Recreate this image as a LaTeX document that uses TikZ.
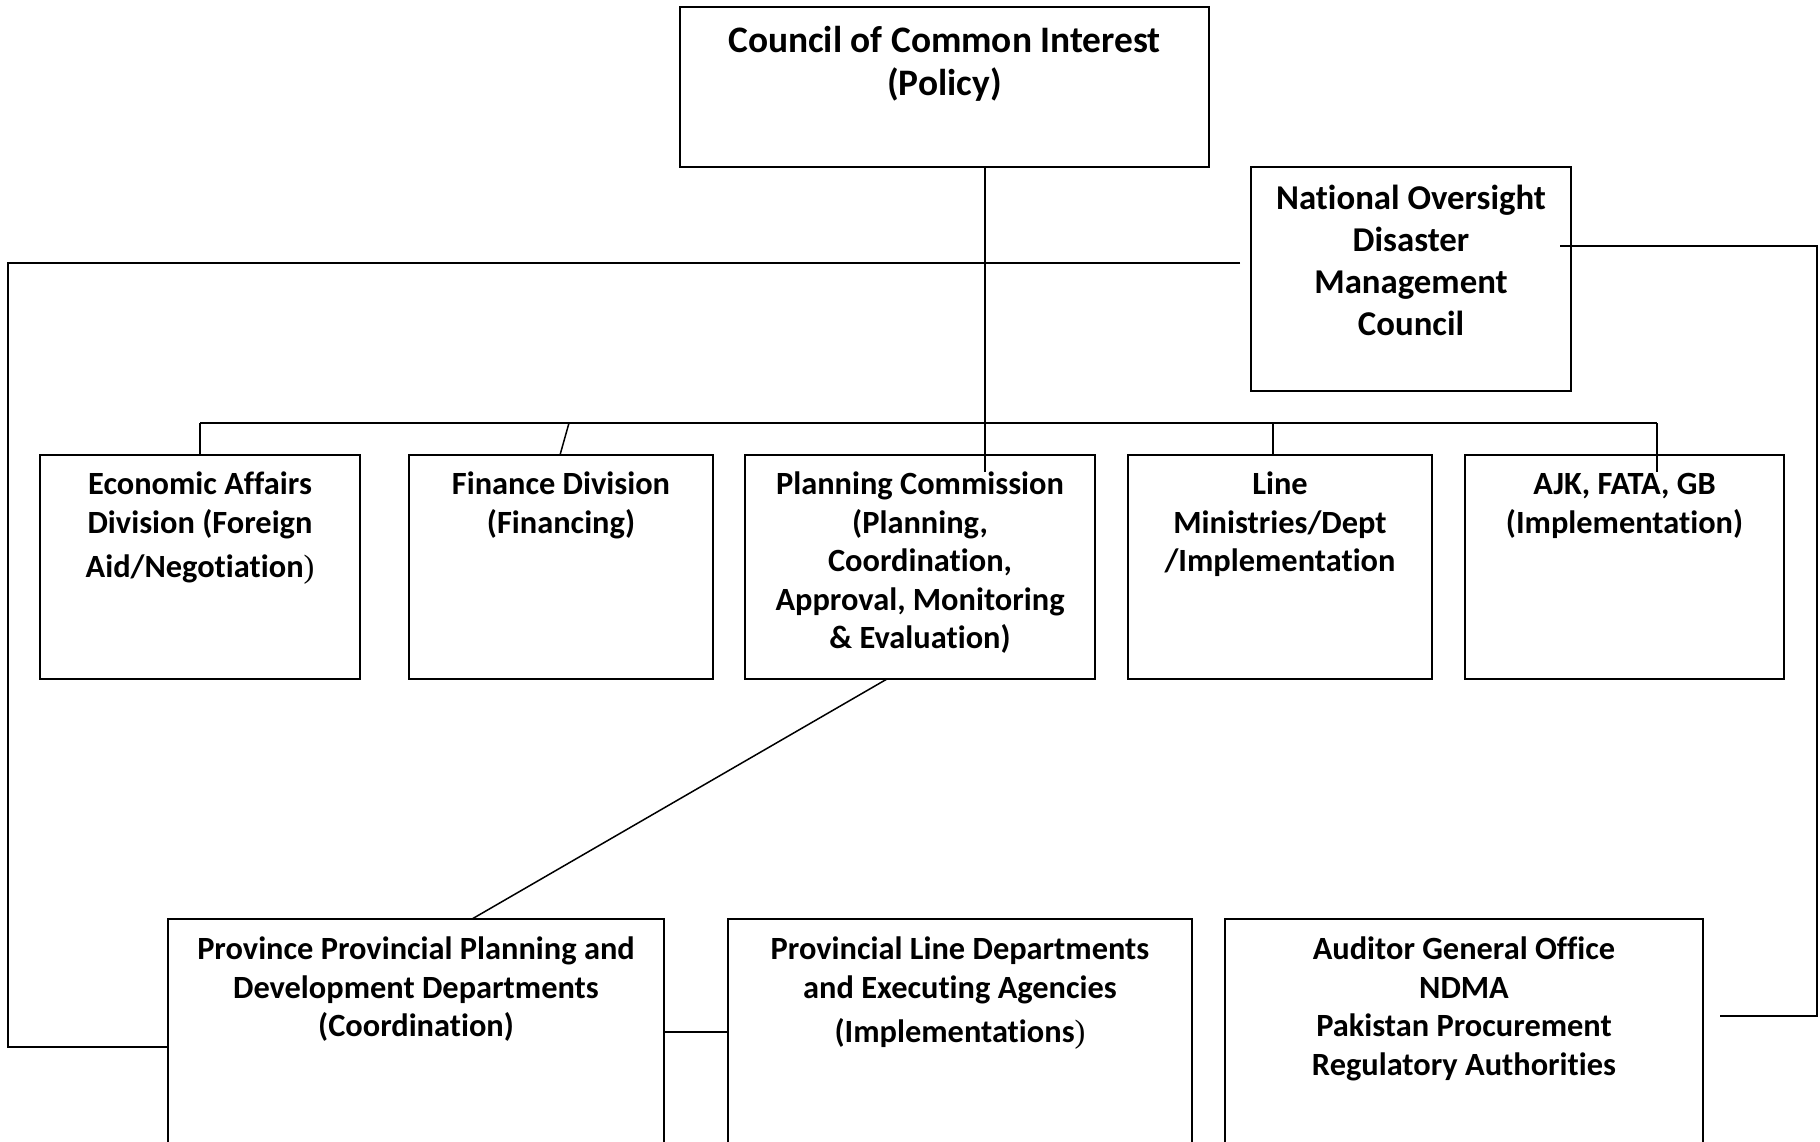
\documentclass[tikz,border=0pt]{standalone}
\usepackage{fontspec}
\setmainfont{Carlito}[Ligatures=CommonOff]
\newfontfamily\parenfont{Liberation Serif}
\usetikzlibrary{calc}
\tikzset{
  box/.style={draw=black, line width=1.6pt, inner sep=0pt, outer sep=0pt, anchor=north west},
  lbl/.style={anchor=north, inner sep=0pt, outer sep=0pt, align=center, font=\bfseries\fontsize{32.4}{38.5}\selectfont},
  biglbl/.style={lbl, font=\bfseries\fontsize{37.4}{43}\selectfont},
  nodlbl/.style={lbl, font=\bfseries\fontsize{34.8}{41.7}\selectfont},
  conn/.style={draw=black, line width=1.5pt},
}
\begin{document}
\begin{tikzpicture}[x=1pt,y=-1pt]
\useasboundingbox (0,0) rectangle (1820,1141);
\clip (0,0) rectangle (1820,1141);
\fill[white] (0,0) rectangle (1820,1141);

% boxes
\node[box, minimum width=529pt, minimum height=160pt] (cci) at (680,7) {};
\node[box, minimum width=320pt, minimum height=224pt] (nod) at (1251,167) {};
\node[box, minimum width=320pt, minimum height=224pt] (ead) at (40,455) {};
\node[box, minimum width=304pt, minimum height=224pt] (fd) at (409,455) {};
\node[box, minimum width=350pt, minimum height=224pt] (pc) at (745,455) {};
\node[box, minimum width=304pt, minimum height=224pt] (lm) at (1128,455) {};
\node[box, minimum width=319pt, minimum height=224pt] (ajk) at (1465,455) {};
\node[box, minimum width=496pt, minimum height=300pt] (prov) at (168,919) {};
\node[box, minimum width=464pt, minimum height=300pt] (pl) at (728,919) {};
\node[box, minimum width=478pt, minimum height=300pt] (aud) at (1225,919) {};

% labels
\node[biglbl] (cciT) at (944.5,21.9) {\strut Council of Common Interest\\(Policy)};
\node[nodlbl] (nodT) at (1411,180.8) {\strut National Oversight\\Disaster\\Management\\Council};
\node[lbl] (eadT) at (200,468) {\strut Economic Affairs\\Division (Foreign\\[6pt]Aid/Negotiation{\mdseries\parenfont )}};
\node[lbl] (fdT) at (561,468) {\strut Finance Division\\(Financing)};
\node[lbl] (pcT) at (920,468) {\strut Planning Commission\\(Planning,\\Coordination,\\Approval, Monitoring\\\& Evaluation)};
\node[lbl] (lmT) at (1280,468) {\strut Line\\Ministries/Dept\\/Implementation};
\node[lbl] (ajkT) at (1624.5,468) {\strut AJK, FATA, GB\\(Implementation)};
\node[lbl] (provT) at (416,933) {\strut Province Provincial Planning and\\Development Departments\\(Coordination)};
\node[lbl] (plT) at (960,933) {\strut Provincial Line Departments\\and Executing Agencies\\[6pt](Implementations{\mdseries\parenfont )}};
\node[lbl] (audT) at (1464,933) {\strut Auditor General Office\\NDMA\\Pakistan Procurement\\Regulatory Authorities};

% connectors
\coordinate (vEnd) at (985,472);
\draw[conn] (cci.south -| vEnd) -- (vEnd);
\coordinate (busL) at (200,423);
\coordinate (busR) at (1657,423);
\draw[conn] (busL) -- (busR);
\draw[conn] (busL) -- (ead.north);
\coordinate (fdB) at (569,423);
\draw[conn] (fdB) -- ($(fd.north west)+(151,0)$);
\coordinate (lmB) at (1273,423);
\draw[conn] (lmB) -- (lm.north -| lmB);
\coordinate (ajkEnd) at (1657,472);
\draw[conn] (busR) -- (ajkEnd);
\draw[conn] ($(pc.south west)+(142,0)$) -- ($(prov.north west)+(304,0)$);
\draw[conn] ($(prov.north east)+(0,113)$) -- ($(pl.north west)+(0,113)$);
\coordinate (nodL) at ($(nod.north west)+(-11,96)$);
\coordinate (leftC) at (8,263);
\draw[conn] (nodL) -- (leftC) |- ($(prov.north west)+(0,128)$);
\coordinate (nodR) at ($(nod.north east)+(-11,79)$);
\coordinate (rightC) at (1817,246);
\coordinate (audEnd) at ($(aud.north east)+(17,97)$);
\draw[conn] (nodR) -- (rightC) |- (audEnd);
\end{tikzpicture}
\end{document}
